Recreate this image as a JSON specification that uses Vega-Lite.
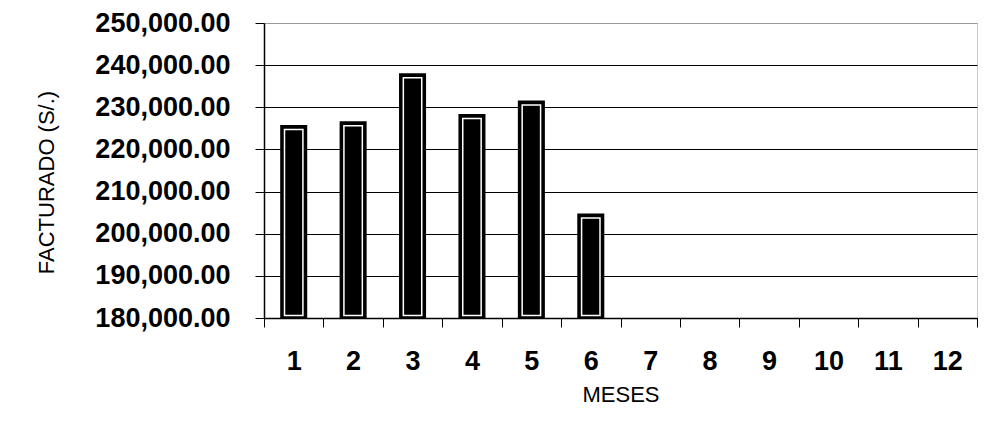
{
  "$schema": "https://vega.github.io/schema/vega-lite/v6.json",
  "autosize": "none",
  "width": 713,
  "height": 295,
  "padding": {"left": 264, "top": 23, "right": 13, "bottom": 107},
  "background": "white",
  "config": {
    "font": "Liberation Sans",
    "view": {"stroke": "#999999", "strokeDash": [1, 1], "strokeWidth": 1}
  },
  "data": {
    "values": [
      {"mes": 1, "facturado": 225800},
      {"mes": 2, "facturado": 226700},
      {"mes": 3, "facturado": 238100},
      {"mes": 4, "facturado": 228400},
      {"mes": 5, "facturado": 231600},
      {"mes": 6, "facturado": 204800}
    ]
  },
  "encoding": {
    "x": {
      "field": "mes",
      "type": "ordinal",
      "scale": {"domain": [1, 2, 3, 4, 5, 6, 7, 8, 9, 10, 11, 12], "paddingInner": 0, "paddingOuter": 0},
      "axis": {
        "title": "MESES",
        "titleFont": "Liberation Sans",
        "titleFontSize": 22,
        "titleFontWeight": "normal",
        "titleColor": "black",
        "titlePadding": 10,
        "labelAngle": 0,
        "labelFont": "Liberation Sans",
        "labelFontSize": 27,
        "labelFontWeight": "bold",
        "labelColor": "black",
        "labelPadding": 21,
        "tickBand": "extent",
        "tickSize": 9,
        "tickColor": "black",
        "domainColor": "black",
        "domainWidth": 1.5,
        "grid": false
      }
    },
    "y": {
      "field": "facturado",
      "type": "quantitative",
      "scale": {"domain": [180000, 250000], "zero": false, "nice": false},
      "axis": {
        "title": "FACTURADO (S/.)",
        "titleFont": "Liberation Sans",
        "titleFontSize": 22,
        "titleFontWeight": "normal",
        "titleColor": "black",
        "titlePadding": 36,
        "titleY": 159,
        "values": [180000, 190000, 200000, 210000, 220000, 230000, 240000, 250000],
        "format": ",.2f",
        "labelFont": "Liberation Sans",
        "labelFontSize": 27,
        "labelFontWeight": "bold",
        "labelColor": "black",
        "labelPadding": 25,
        "labelLimit": 400,
        "tickSize": 9,
        "tickColor": "black",
        "domainColor": "black",
        "domainWidth": 1.5,
        "grid": true,
        "gridColor": {"condition": {"test": "datum.value == 250000", "value": "#999999"}, "value": "black"},
        "gridWidth": 1.2
      }
    },
    "y2": {"datum": 180000}
  },
  "layer": [
    {"mark": {"type": "bar", "color": "black", "width": {"band": 0.455}}},
    {"mark": {"type": "bar", "fill": "black", "stroke": "white", "strokeWidth": 1.5, "width": {"band": 0.31}, "yOffset": 4.5, "y2Offset": -2.5}}
  ]
}
